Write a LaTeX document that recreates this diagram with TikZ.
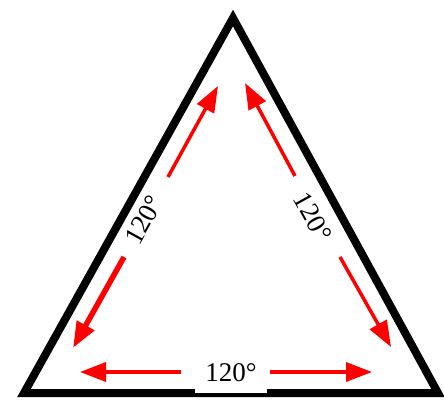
\documentclass[tikz,border=0pt]{standalone}
\usepackage{fontspec}
\setmainfont{Liberation Serif}
\usetikzlibrary{arrows.meta}
\begin{document}
\begin{tikzpicture}[x=1pt,y=-1pt,
  edge/.style={draw=black,line width=8pt,line join=miter},
  arr/.style={-{Triangle[length=26pt,width=19pt]},red,line width=3.5pt},
  deg/.style={fill=white,inner sep=4pt,font=\fontsize{27}{30}\selectfont}]
  \useasboundingbox (0,0) rectangle (444,401);
  % triangle
  \coordinate (top) at (233,18);
  \coordinate (bl) at (24,393);
  \coordinate (br) at (438,393);
  \draw[edge] (top) -- (bl) -- (br) -- cycle;
  % left side
  \coordinate (l1) at (168,177);
  \coordinate (l2) at (218,86);
  \coordinate (l3) at (124,257);
  \coordinate (l4) at (73,348);
  \draw[arr] (l1) -- (l2);
  \draw[arr,line width=5.5pt] (l3) -- (l4);
  \node[deg,rotate=61] (lbll) at (144,220) {120°};
  % right side
  \coordinate (r1) at (295,176);
  \coordinate (r2) at (245,83);
  \coordinate (r3) at (340,257);
  \coordinate (r4) at (391,347);
  \draw[arr] (r1) -- (r2);
  \draw[arr] (r3) -- (r4);
  \node[deg,rotate=-61] (lblr) at (313,217) {120°};
  % base
  \coordinate (b1) at (181,372);
  \coordinate (b2) at (80,372);
  \coordinate (b3) at (270,372);
  \coordinate (b4) at (372,372);
  \draw[arr] (b1) -- (b2);
  \draw[arr] (b3) -- (b4);
  \node[deg,anchor=base,inner xsep=10pt,inner ysep=12pt] (lblb) at (231,381) {120°};
\end{tikzpicture}
\end{document}
